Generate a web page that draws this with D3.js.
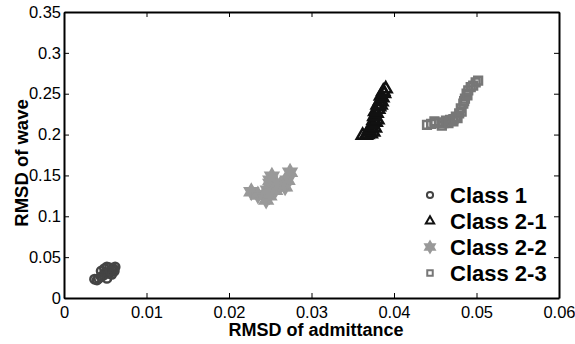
<!DOCTYPE html>
<html>
<head>
<meta charset="utf-8">
<script src="https://cdn.jsdelivr.net/npm/d3@7"></script>
<style>
  body { margin: 0; background: #fff; }
  svg { font-family: "Liberation Sans", Arial, sans-serif; }
</style>
</head>
<body>
<svg id="chart" width="575" height="344"></svg>
<script>
const xTicks = [0, 0.01, 0.02, 0.03, 0.04, 0.05, 0.06];
const yTicks = [0, 0.05, 0.1, 0.15, 0.2, 0.25, 0.3, 0.35];

const class1 = [
  [0.0037, 0.023], [0.0042, 0.024], [0.0045, 0.026], [0.0048, 0.028], [0.0050, 0.031],
  [0.0049, 0.036], [0.0052, 0.038], [0.0055, 0.037], [0.0058, 0.035], [0.0060, 0.036],
  [0.0062, 0.038], [0.0055, 0.030], [0.0058, 0.029], [0.0045, 0.033], [0.0061, 0.033],
  [0.0052, 0.024], [0.0040, 0.022], [0.0056, 0.033]
];
const class21 = [
  [0.0362, 0.199], [0.0366, 0.199], [0.0368, 0.200], [0.0372, 0.201], [0.0375, 0.203],
  [0.0370, 0.204], [0.0370, 0.206], [0.0377, 0.208], [0.0373, 0.209], [0.0374, 0.212],
  [0.0378, 0.215], [0.0375, 0.217], [0.0380, 0.218], [0.0376, 0.222], [0.0379, 0.226],
  [0.0377, 0.228], [0.0381, 0.231], [0.0382, 0.234], [0.0380, 0.236], [0.0384, 0.236],
  [0.0385, 0.240], [0.0383, 0.241], [0.0386, 0.245], [0.0384, 0.247], [0.0388, 0.250],
  [0.0387, 0.253], [0.0390, 0.256]
];
const class22 = [
  [0.0227, 0.130], [0.0235, 0.126], [0.0242, 0.126], [0.0245, 0.120], [0.0247, 0.132],
  [0.0250, 0.140], [0.0250, 0.144], [0.0252, 0.149], [0.0256, 0.132], [0.0257, 0.136],
  [0.0262, 0.138], [0.0268, 0.136], [0.0271, 0.144], [0.0274, 0.154], [0.0249, 0.125]
];
const class23 = [
  [0.0440, 0.212], [0.0445, 0.213], [0.0449, 0.216], [0.0450, 0.214], [0.0455, 0.215],
  [0.0458, 0.211], [0.0460, 0.214], [0.0463, 0.217], [0.0466, 0.214], [0.0468, 0.218],
  [0.0472, 0.219], [0.0472, 0.216], [0.0475, 0.222], [0.0477, 0.220], [0.0479, 0.226],
  [0.0481, 0.232], [0.0482, 0.228], [0.0484, 0.238], [0.0486, 0.244], [0.0485, 0.241],
  [0.0488, 0.250], [0.0490, 0.254], [0.0489, 0.248], [0.0493, 0.258], [0.0496, 0.260],
  [0.0499, 0.264], [0.0502, 0.266]
];
const seriesNames = ["Class 1", "Class 2-1", "Class 2-2", "Class 2-3"];

const margin = {top: 12, right: 16, bottom: 46, left: 64};
const width = 575 - margin.left - margin.right;
const height = 344 - margin.top - margin.bottom;

const svg = d3.select("#chart");
const g = svg.append("g").attr("transform", "translate(" + margin.left + "," + margin.top + ")");

const x = d3.scaleLinear().domain([0, 0.06]).range([0, width]);
const y = d3.scaleLinear().domain([0, 0.35]).range([height, 0]);

// star (hexagram) path
function hexagram(r) {
  const pts = [];
  for (let i = 0; i < 12; i++) {
    const a = Math.PI / 6 * i - Math.PI / 2;
    const rr = i % 2 === 0 ? r : r * 0.58;
    pts.push([rr * Math.cos(a), rr * Math.sin(a)]);
  }
  return "M" + pts.map(p => p.join(",")).join("L") + "Z";
}

const styles = [
  {data: class1, shape: d3.symbol(d3.symbolCircle, 55)(), stroke: "#444", fill: "none", sw: 2.5},
  {data: class21, shape: d3.symbol(d3.symbolTriangle, 60)(), stroke: "#111", fill: "none", sw: 2.5},
  {data: class22, shape: hexagram(7.5), stroke: "#999", fill: "#999", sw: 2},
  {data: class23, shape: d3.symbol(d3.symbolSquare, 60)(), stroke: "#777", fill: "none", sw: 2.5}
];

styles.forEach(s => {
  g.append("g").selectAll("path")
    .data(s.data)
    .enter()
    .append("path")
    .attr("d", s.shape)
    .attr("transform", d => "translate(" + x(d[0]) + "," + y(d[1]) + ")")
    .attr("fill", s.fill)
    .attr("stroke", s.stroke)
    .attr("stroke-width", s.sw);
});

// axes with inward ticks
g.append("g")
  .attr("transform", "translate(0," + height + ")")
  .call(d3.axisBottom(x).tickValues(xTicks).tickSizeInner(-5).tickSizeOuter(0).tickPadding(8).tickFormat(d3.format("")));
g.append("g")
  .call(d3.axisLeft(y).tickValues(yTicks).tickSizeInner(-5).tickSizeOuter(0).tickPadding(3).tickFormat(d3.format("")));
g.append("g")
  .call(d3.axisTop(x).tickValues(xTicks).tickSizeInner(-5).tickSizeOuter(0).tickFormat(""));
g.append("g")
  .attr("transform", "translate(" + width + ",0)")
  .call(d3.axisRight(y).tickValues(yTicks).tickSizeInner(-5).tickSizeOuter(0).tickFormat(""));

g.selectAll(".domain").attr("stroke", "#000").attr("stroke-width", 2);
g.selectAll(".tick line").attr("stroke", "#000").attr("stroke-width", 1);
g.selectAll(".tick text").attr("font-size", 16.5).attr("fill", "#000")
  .attr("font-family", "'Liberation Sans', Arial, sans-serif");

// axis titles
svg.append("text")
  .attr("x", 316)
  .attr("y", 336)
  .attr("text-anchor", "middle")
  .attr("font-size", 18)
  .attr("font-weight", "bold")
  .text("RMSD of admittance");
svg.append("text")
  .attr("transform", "translate(22,163)rotate(-90)")
  .attr("text-anchor", "middle")
  .attr("dy", "0.35em")
  .attr("font-size", 18.5)
  .attr("font-weight", "bold")
  .text("RMSD of wave");

// legend
const legend = g.append("g").attr("transform", "translate(366,183)");
styles.forEach((s, i) => {
  const row = legend.append("g").attr("transform", "translate(0," + i * 26 + ")");
  row.append("path")
    .attr("d", i === 2 ? hexagram(5.5) : d3.symbol([d3.symbolCircle, d3.symbolTriangle, null, d3.symbolSquare][i], 30)())
    .attr("fill", s.fill)
    .attr("stroke", s.stroke)
    .attr("stroke-width", 2);
  row.append("text")
    .attr("x", 20)
    .attr("dy", "0.35em")
    .attr("font-size", 22)
    .attr("font-weight", "bold")
    .text(seriesNames[i]);
});
</script>
</body>
</html>
